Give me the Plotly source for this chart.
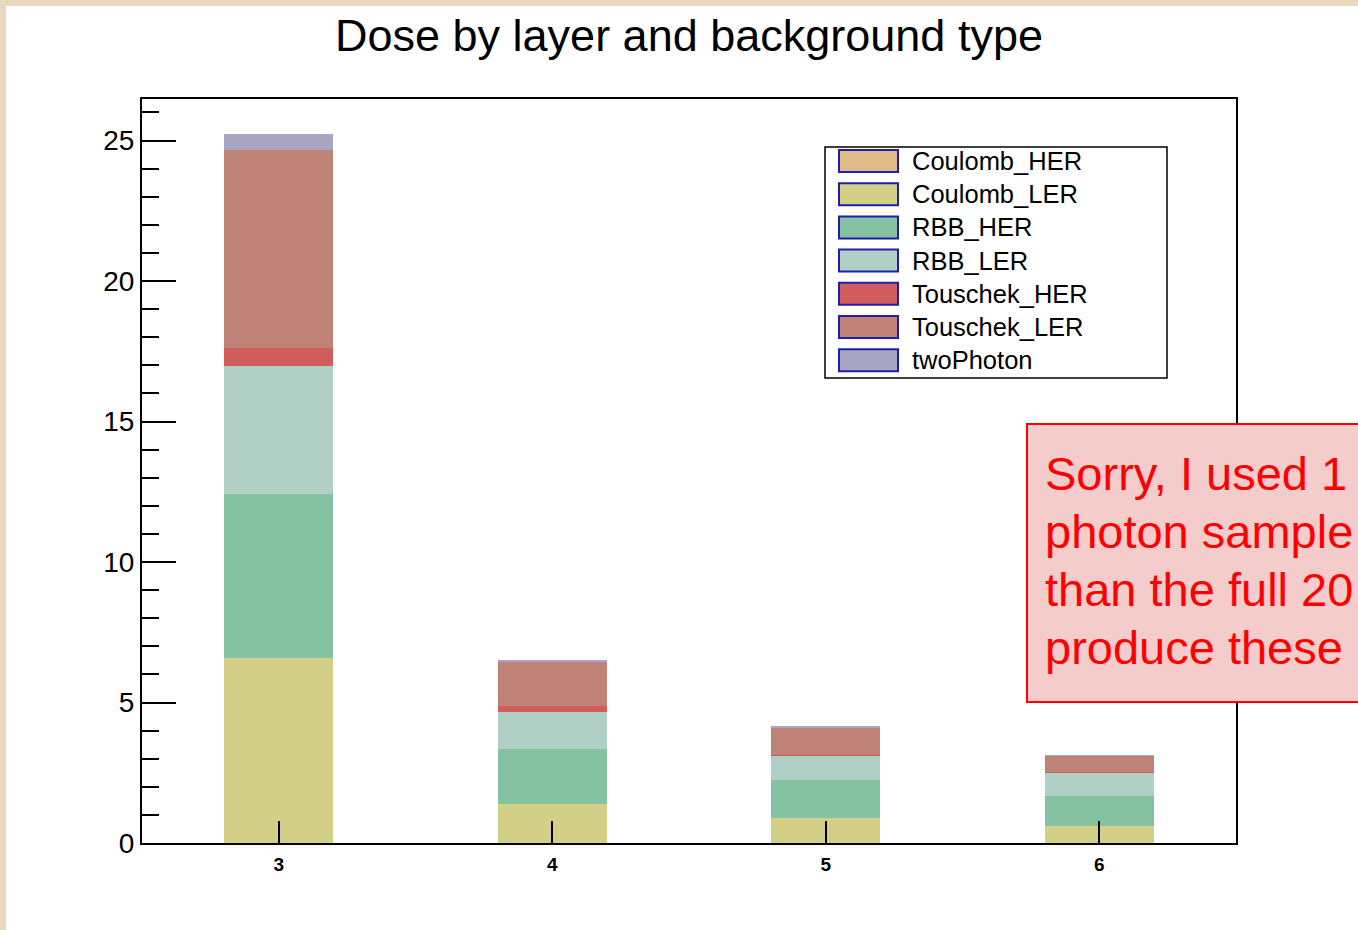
import plotly.graph_objects as go

# ---------------- data ----------------
layers = [3, 4, 5, 6]
series_names = ["Coulomb_HER", "Coulomb_LER", "RBB_HER", "RBB_LER",
                "Touschek_HER", "Touschek_LER", "twoPhoton"]
coulomb_her = [0.0, 0.0, 0.0, 0.0]
coulomb_ler = [6.58, 1.39, 0.90, 0.62]
rbb_her = [5.83, 1.96, 1.34, 1.07]
rbb_ler = [4.56, 1.33, 0.875, 0.82]
touschek_her = [0.65, 0.20, 0.03, 0.02]
touschek_ler = [7.04, 1.59, 0.95, 0.57]
two_photon = [0.57, 0.05, 0.04, 0.01]
series_values = [coulomb_her, coulomb_ler, rbb_her, rbb_ler,
                 touschek_her, touschek_ler, two_photon]
series_colors = ["#DFBA87", "#D3CF87", "#85C2A2", "#B0D0C6",
                 "#D05C5C", "#BE8276", "#A9A6C1"]
y_ticks = [0, 5, 10, 15, 20, 25]
title_text = "Dose by layer and background type"
note_lines = ["Sorry, I used 1", "photon sample", "than the full 20", "produce these"]

# ---------------- geometry ----------------
W, H = 1358, 930
L, R, T, B = 142, 1236, 99, 843
FONT = "Liberation Sans, Arial, Helvetica, sans-serif"


def px(x):
    return (x - L) / (R - L)


def py(y):
    return (B - y) / (B - T)


fig = go.Figure()
for name, vals, col in zip(series_names, series_values, series_colors):
    fig.add_trace(go.Bar(x=layers, y=vals, name=name, width=0.4,
                         marker=dict(color=col, line=dict(width=0)),
                         showlegend=False))

shapes = []
annotations = []

# beige page border (top & left)
shapes.append(dict(type="rect", xref="paper", yref="paper",
                   x0=px(-2), x1=px(W + 2), y0=py(6), y1=py(-2),
                   fillcolor="#E8D8BE", line=dict(width=0), layer="above"))
shapes.append(dict(type="rect", xref="paper", yref="paper",
                   x0=px(-2), x1=px(6), y0=py(H + 2), y1=py(-2),
                   fillcolor="#E8D8BE", line=dict(width=0), layer="above"))

# legend box
shapes.append(dict(type="rect", xref="paper", yref="paper",
                   x0=px(825), x1=px(1167), y0=py(378), y1=py(147),
                   fillcolor="white", line=dict(color="black", width=1.5),
                   layer="above"))
row0, drow = 161, 33.2
for i, (name, col) in enumerate(zip(series_names, series_colors)):
    cy = row0 + i * drow
    shapes.append(dict(type="rect", xref="paper", yref="paper",
                       x0=px(839), x1=px(898), y0=py(cy + 11), y1=py(cy - 11),
                       fillcolor=col, line=dict(color="#1E1EAA", width=2),
                       layer="above"))
    annotations.append(dict(xref="paper", yref="paper", x=px(910), y=py(cy),
                            text=name, showarrow=False, xanchor="left",
                            yanchor="middle",
                            font=dict(family=FONT, size=25.5, color="black")))

# red note box
shapes.append(dict(type="rect", xref="paper", yref="paper",
                   x0=px(1027), x1=px(W + 20), y0=py(702), y1=py(424),
                   fillcolor="#F4CCCC", line=dict(color="#FF0000", width=2),
                   layer="above"))
for i, line in enumerate(note_lines):
    base = 488 + i * 58
    annotations.append(dict(xref="paper", yref="paper", x=px(1043),
                            y=py(base - 15), text=line, showarrow=False,
                            xanchor="left", yanchor="middle",
                            font=dict(family=FONT, size=47, color="#FF0000")))

# title
annotations.append(dict(xref="paper", yref="paper", x=px(689), y=py(35),
                        text=title_text, showarrow=False, xanchor="center",
                        yanchor="middle",
                        font=dict(family=FONT, size=45, color="black")))

fig.update_layout(
    width=W, height=H,
    margin=dict(l=L, r=W - R, t=T, b=H - B, pad=0),
    paper_bgcolor="white", plot_bgcolor="white",
    barmode="stack", bargap=0,
    showlegend=False,
    shapes=shapes, annotations=annotations,
    font=dict(family=FONT, color="black"),
)
fig.update_xaxes(range=[2.5, 6.5], tickvals=layers, ticktext=[str(v) for v in layers],
                 ticks="inside", ticklen=22, tickwidth=2, tickcolor="black",
                 ticklabelstandoff=3,
                 showline=True, linecolor="black", linewidth=2, mirror=True,
                 showgrid=False, zeroline=False,
                 tickfont=dict(family=FONT, size=19, color="black", weight="bold"))
fig.update_yaxes(range=[0, 26.48], tickvals=y_ticks,
                 ticks="inside", ticklen=34, tickwidth=2, tickcolor="black",
                 minor=dict(ticks="inside", ticklen=17, tickwidth=2,
                            tickcolor="black", dtick=1, showgrid=False),
                 showline=True, linecolor="black", linewidth=2, mirror=True,
                 showgrid=False, zeroline=False,
                 tickfont=dict(family=FONT, size=28, color="black"))

fig.write_html("out.html")
